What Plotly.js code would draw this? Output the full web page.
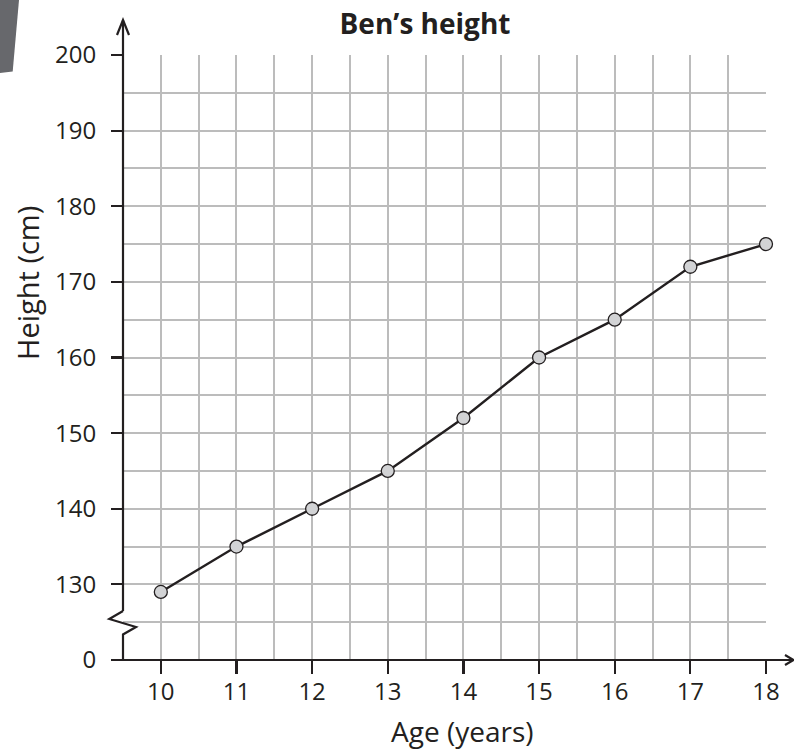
<!DOCTYPE html>
<html>
<head>
<meta charset="utf-8">
<script src="https://cdn.plot.ly/plotly-3.0.1.min.js"></script>
<style>html,body{margin:0;padding:0;background:#fff;}#chart{width:794px;height:752px;}</style>
</head>
<body>
<div id="chart"></div>
<script>
// Data
const ages = [10, 11, 12, 13, 14, 15, 16, 17, 18];
const heights = [129, 135, 140, 145, 152, 160, 165, 172, 175];
// y axis: the break maps the bottom label "0" onto 120 on the drawn scale
const yTickVals = [120, 130, 140, 150, 160, 170, 180, 190, 200];
const yTickText = ['0', '130', '140', '150', '160', '170', '180', '190', '200'];
const xTickVals = [10, 11, 12, 13, 14, 15, 16, 17, 18];
const xTickText = ['10', '11', '12', '13', '14', '15', '16', '17', '18'];

const ink = '#231f20';
const gridCol = '#bcbcbc';
const FONT = 'Open Sans, Noto Sans, sans-serif';

// pixel helpers for decorations (plot area 123..766 x 55..660)
const L = 123, T = 55, W = 643, H = 605;
const xp = px => (px - L) / W;
const yp = py => (T + H - py) / H;

const trace = {
  x: ages, y: heights, type: 'scatter', mode: 'lines+markers',
  line: {color: ink, width: 2.4},
  marker: {size: 13, color: '#d2d3d5', line: {color: ink, width: 1.3}},
  cliponaxis: false, hoverinfo: 'skip'
};

const shapes = [
  // grey page tab at top-left
  {type: 'path', xref: 'paper', yref: 'paper', layer: 'above',
   path: `M ${xp(0)},${yp(0)} L ${xp(19)},${yp(0)} L ${xp(12.7)},${yp(71.5)} L ${xp(0)},${yp(73)} Z`,
   fillcolor: '#67686c', line: {width: 0}},
  // y axis with break
  {type: 'line', xref: 'paper', yref: 'paper', layer: 'above', x0: 0, x1: 0, y0: yp(611), y1: yp(20), line: {color: ink, width: 2.2}},
  {type: 'path', xref: 'paper', yref: 'paper', layer: 'above',
   path: `M 0,${yp(611)} L ${xp(109.3)},${yp(619)} L ${xp(136)},${yp(627)} L 0,${yp(634.5)} L 0,0`,
   line: {color: ink, width: 2.2}},
  // x axis
  {type: 'line', xref: 'paper', yref: 'paper', layer: 'above', x0: xp(112), x1: xp(793), y0: 0, y1: 0, line: {color: ink, width: 2.2}},
  // arrow heads
  {type: 'path', xref: 'paper', yref: 'paper', layer: 'above',
   path: `M ${xp(117)},${yp(35)} L 0,${yp(20)} L ${xp(129)},${yp(35)}`, line: {color: ink, width: 2.2}},
  {type: 'path', xref: 'paper', yref: 'paper', layer: 'above',
   path: `M ${xp(785)},${yp(655)} L ${xp(793.5)},0 L ${xp(785)},${yp(665)}`, line: {color: ink, width: 2.2}}
];

const layout = {
  width: 794, height: 752,
  margin: {l: L, r: 794 - L - W, t: T, b: 752 - T - H, pad: 0},
  paper_bgcolor: '#ffffff', plot_bgcolor: '#ffffff',
  showlegend: false,
  font: {family: FONT, color: ink},
  title: {text: 'Ben’s height', font: {family: FONT, size: 28, color: ink, weight: 700},
          x: 425 / 794, xref: 'container', xanchor: 'center', y: 1 - 24 / 752, yref: 'container', yanchor: 'middle'},
  xaxis: {
    range: [9.5, 18], fixedrange: true,
    tickmode: 'array', tickvals: xTickVals, ticktext: xTickText,
    ticks: 'outside', ticklen: 13, tickwidth: 2.2, tickcolor: ink,
    tickfont: {family: FONT, size: 24, color: ink},
    ticklabelstandoff: -3,
    showgrid: true, gridcolor: gridCol, gridwidth: 2,
    minor: {tickmode: 'linear', tick0: 9.5, dtick: 0.5, showgrid: true, gridcolor: gridCol, gridwidth: 2, ticks: ''},
    showline: false, zeroline: false
  },
  yaxis: {
    range: [120, 200], fixedrange: true,
    tickmode: 'array', tickvals: yTickVals, ticktext: yTickText,
    ticks: 'outside', ticklen: 11, tickwidth: 2.2, tickcolor: ink,
    tickfont: {family: FONT, size: 24, color: ink},
    ticklabelstandoff: 10,
    showgrid: true, gridcolor: gridCol, gridwidth: 2,
    minor: {tickmode: 'linear', tick0: 120, dtick: 5, showgrid: true, gridcolor: gridCol, gridwidth: 2, ticks: ''},
    showline: false, zeroline: false
  },
  shapes: shapes,
  annotations: [
    {text: 'Age (years)', xref: 'paper', yref: 'paper', x: xp(462), y: yp(731), xanchor: 'center', yanchor: 'middle',
     showarrow: false, font: {family: FONT, size: 28, color: ink}},
    {text: 'Height (cm)', xref: 'paper', yref: 'paper', x: xp(27), y: yp(283), xanchor: 'center', yanchor: 'middle',
     textangle: -90, showarrow: false, font: {family: FONT, size: 29, color: ink}}
  ]
};

Plotly.newPlot('chart', [trace], layout, {staticPlot: true, displayModeBar: false});
</script>
</body>
</html>
